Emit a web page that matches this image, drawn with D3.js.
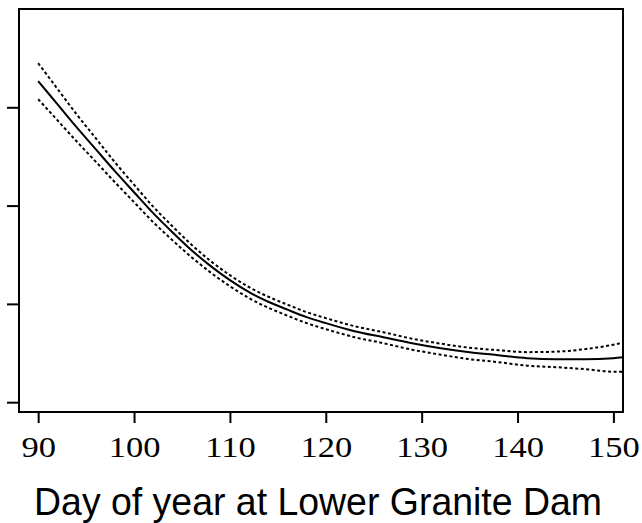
<!DOCTYPE html>
<html>
<head>
<meta charset="utf-8">
<script src="https://cdn.jsdelivr.net/npm/d3@7"></script>
<style>
  html, body { margin: 0; padding: 0; background: #fff; }
  svg { display: block; }
</style>
</head>
<body>
<svg id="chart" width="642" height="523"></svg>
<script>
// day of year
const days = [90, 92, 94, 96, 98, 100, 102, 104, 106, 108, 110, 112, 114, 116, 118, 120,
  123, 126, 129, 132, 135, 138, 141, 144, 147, 150, 151];
// fitted curve
const fit = [3.266, 3.032, 2.798, 2.574, 2.350, 2.136, 1.923, 1.729, 1.546, 1.384, 1.241,
  1.119, 1.022, 0.941, 0.865, 0.804, 0.722, 0.661, 0.600, 0.549, 0.509, 0.478, 0.448,
  0.437, 0.437, 0.448, 0.458];
// upper and lower bands
const upper = [3.449, 3.189, 2.930, 2.686, 2.441, 2.213, 1.989, 1.790, 1.602, 1.435, 1.292,
  1.170, 1.073, 0.992, 0.916, 0.855, 0.773, 0.712, 0.646, 0.595, 0.554, 0.529, 0.509,
  0.514, 0.539, 0.585, 0.605];
const lower = [3.082, 2.869, 2.655, 2.447, 2.238, 2.035, 1.831, 1.648, 1.475, 1.318, 1.180,
  1.058, 0.961, 0.880, 0.804, 0.743, 0.661, 0.600, 0.534, 0.483, 0.437, 0.407, 0.371,
  0.356, 0.336, 0.310, 0.310];
const xTicks = [90, 100, 110, 120, 130, 140, 150];
const yTicks = [0, 1, 2, 3];

const svg = d3.select("#chart");
const plot = { left: 19, right: 623, top: 9, bottom: 412 };

const x = d3.scaleLinear().domain([88, 151]).range([plot.left, plot.right]);
const y = d3.scaleLinear().domain([-0.1, 4.0]).range([plot.bottom, plot.top]);

const line = (vals) => d3.line()
  .x((d, i) => x(days[i]))
  .y((d) => y(d))
  .curve(d3.curveMonotoneX)(vals);

// curves
svg.append("path").attr("d", line(upper))
  .attr("fill", "none").attr("stroke", "#000")
  .attr("stroke-width", 2).attr("stroke-dasharray", "3,2.5");
svg.append("path").attr("d", line(lower))
  .attr("fill", "none").attr("stroke", "#000")
  .attr("stroke-width", 2).attr("stroke-dasharray", "3,2.5");
svg.append("path").attr("d", line(fit))
  .attr("fill", "none").attr("stroke", "#000").attr("stroke-width", 2);

// frame
svg.append("rect")
  .attr("x", plot.left).attr("y", plot.top)
  .attr("width", plot.right - plot.left).attr("height", plot.bottom - plot.top)
  .attr("fill", "none").attr("stroke", "#000").attr("stroke-width", 2);

// x axis
const xAxis = svg.append("g")
  .attr("transform", `translate(0,${plot.bottom})`)
  .call(d3.axisBottom(x).tickValues(xTicks).tickSize(11).tickSizeOuter(0));
xAxis.select(".domain").remove();
xAxis.selectAll("line").attr("stroke-width", 2);
xAxis.selectAll("text")
  .attr("y", 45).attr("dy", null)
  .attr("transform", "scale(1.15,1)")
  .attr("font-family", "'Liberation Serif', 'Times New Roman', serif")
  .attr("font-size", "30px").attr("fill", "#000");

// y axis (ticks only)
const yAxis = svg.append("g")
  .attr("transform", `translate(${plot.left},0)`)
  .call(d3.axisLeft(y).tickValues(yTicks).tickSize(12).tickSizeOuter(0).tickFormat(""));
yAxis.select(".domain").remove();
yAxis.selectAll("line").attr("stroke-width", 2);

// x label
svg.append("text")
  .attr("transform", "translate(318,515) scale(0.96,1)")
  .attr("text-anchor", "middle")
  .attr("font-family", "'Liberation Sans', Arial, sans-serif")
  .attr("font-size", "39px")
  .attr("fill", "#000")
  .text("Day of year at Lower Granite Dam");
</script>
</body>
</html>
